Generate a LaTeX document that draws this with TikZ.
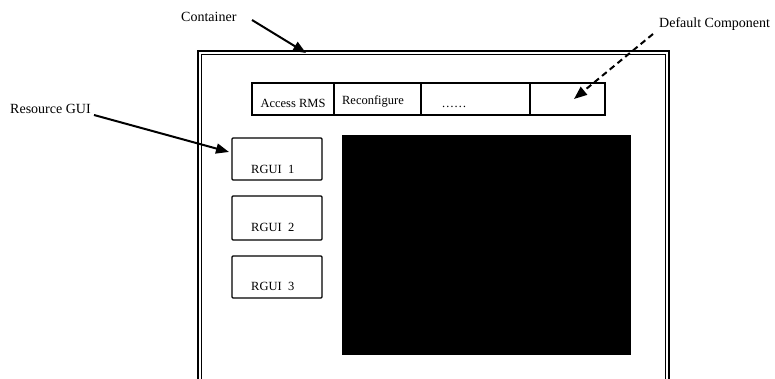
\documentclass[tikz,border=0pt]{standalone}
\usepackage{fontspec}
\setmainfont{Liberation Serif}
\usetikzlibrary{arrows.meta}
\begin{document}
\begin{tikzpicture}[x=1pt,y=-1pt,
  label/.style={font=\fontsize{14}{16}\selectfont, inner sep=0pt},
  itemtext/.style={font=\fontsize{12.5}{14}\selectfont, inner sep=0pt},
  frameline/.style={line width=1.3pt},
  boxline/.style={line width=1.3pt},
  pointer/.style={line width=2pt, -{Triangle[length=13pt,width=10pt]}},
  dpointer/.style={pointer, dash pattern=on 6pt off 4pt}]
\useasboundingbox (0,0) rectangle (775,379);

% container: double frame, open at the bottom
\draw[frameline] (198,379) -- (198,51) -- (669,51) -- (669,379);
\draw[frameline] (201.5,379) -- (201.5,54.5) -- (665.5,54.5) -- (665.5,379);

% toolbar of default components
\draw[boxline] (252,83) rectangle (605,115);
\draw[boxline] (334,83) -- (334,115);
\draw[boxline] (421,83) -- (421,115);
\draw[boxline] (530,83) -- (530,115);
\node[itemtext, anchor=base] (access) at (293,108) {Access RMS};
\node[itemtext, anchor=base] (reconf) at (373,105) {Reconfigure};
\node[itemtext, anchor=base] (dots) at (454,108) {……};
\coordinate (slot) at (574,99);

% resource GUIs
\draw[boxline, rounded corners=1pt] (232,138) rectangle (322,180);
\draw[boxline, rounded corners=1pt] (232,196) rectangle (322,240);
\draw[boxline, rounded corners=1pt] (232,256) rectangle (322,298);
\node[itemtext, anchor=base west] (r1) at (251,174) {RGUI\ \ 1};
\node[itemtext, anchor=base west] (r2) at (251,231) {RGUI\ \ 2};
\node[itemtext, anchor=base west] (r3) at (251,290) {RGUI\ \ 3};
\coordinate (r1left) at (229,152);

% display area
\fill[black] (342,135) rectangle (631,355);

% labels and pointers
\node[label, anchor=base west] (cont) at (181,22) {Container};
\node[label, anchor=base west] (rgui) at (10,114) {Resource GUI};
\node[label, anchor=base west] (defc) at (659,28) {Default Component};
\coordinate (conttop) at (306,53);
\coordinate (contstart) at (252,20);
\coordinate (rguistart) at (94,115);
\coordinate (defstart) at (653,34);

\draw[pointer] (contstart) -- (conttop);
\draw[pointer] (rguistart) -- (r1left);
\draw[dpointer] (defstart) -- (slot);
\end{tikzpicture}
\end{document}
